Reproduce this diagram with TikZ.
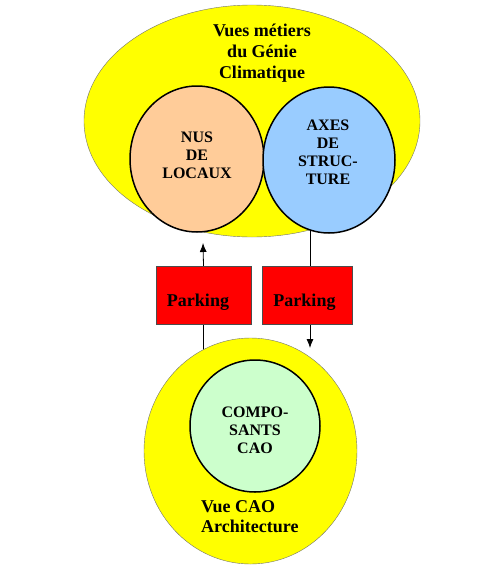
\documentclass[tikz,border=0pt]{standalone}
\usepackage{fontspec}
\setmainfont{Liberation Serif}
\usetikzlibrary{shapes.geometric,arrows.meta,backgrounds}
\definecolor{vuejaune}{HTML}{FFFF00}
\definecolor{nuspeche}{HTML}{FFCC99}
\definecolor{axesbleu}{HTML}{99CCFF}
\definecolor{caovert}{HTML}{CCFFCC}
\definecolor{parkrouge}{HTML}{FF0000}

\begin{document}
\begin{tikzpicture}[x=1pt, y=-1pt,
    vue/.style ={ellipse, draw=black!55, fill=vuejaune, inner sep=0pt},
    objet/.style ={ellipse, draw, line width=1.5pt, inner sep=0pt},
    parking/.style ={rectangle, draw=black!70, fill=parkrouge, minimum width=95, minimum height=58},
    titre/.style ={font=\bfseries\fontsize{18}{21}\selectfont, inner sep=0pt},
    petit/.style ={font=\bfseries\fontsize{16}{18}\selectfont, align=center, inner sep=0pt},
    lien/.style ={line width=0.8pt}]
   \useasboundingbox (0,0) rectangle (497,568);
   % vue metiers
   \node[vue, minimum width=336, minimum height=232] (metiers) at (252,121) {};
   \node[objet, fill=nuspeche, minimum width=134, minimum height=146] (nus) at (197,159) {};
   \node[objet, fill=axesbleu, minimum width=132, minimum height=146] (axes) at (329,160) {};
   \node[titre, align=center] (metierstxt) at (262,53) {Vues métiers\\du Génie\\Climatique};
   \node[petit] (nustxt) at (197,155) {NUS\\DE\\LOCAUX};
   \node[petit] (axestxt) at (328,152) {AXES\\DE\\STRUC-\\TURE};
   % vue CAO
   \node[vue, minimum width=213, minimum height=226] (cao) at (250.5,451) {};
   \node[objet, fill=caovert, minimum width=130, minimum height=132] (compo) at (255,426) {};
   \node[petit] (compotxt) at (255,430) {COMPO-\\SANTS\\CAO};
   \node[titre, align=left, anchor=north west, font=\bfseries\fontsize{18}{20}\selectfont] (caotxt) at (201,500) {Vue CAO\\Architecture};
   % parkings
   \node[parking] (lpark) at (203.5,295) {};
   \node[parking, minimum width=90] (rpark) at (307,295) {};
   \node[titre, anchor=base] (lparktxt) at (198,306) {Parking};
   \node[titre, anchor=base] (rparktxt) at (304.5,306) {Parking};
   \coordinate (uptip) at (203,243);
   \coordinate (downtip) at (310,348);
   \begin{scope}[on background layer]
   \draw[lien, -{Latex[length=9pt,width=7pt]}] (lpark.north) to (uptip);
   \draw[lien] (lpark.south) to (lpark.south |- cao.center);
   \draw[lien] (downtip |- metiers.center) to (downtip |- rpark.north);
   \draw[lien, -{Latex[length=9pt,width=7pt]}] (downtip |- rpark.south) to (downtip);
   \end{scope}
\end{tikzpicture}
\end{document}
